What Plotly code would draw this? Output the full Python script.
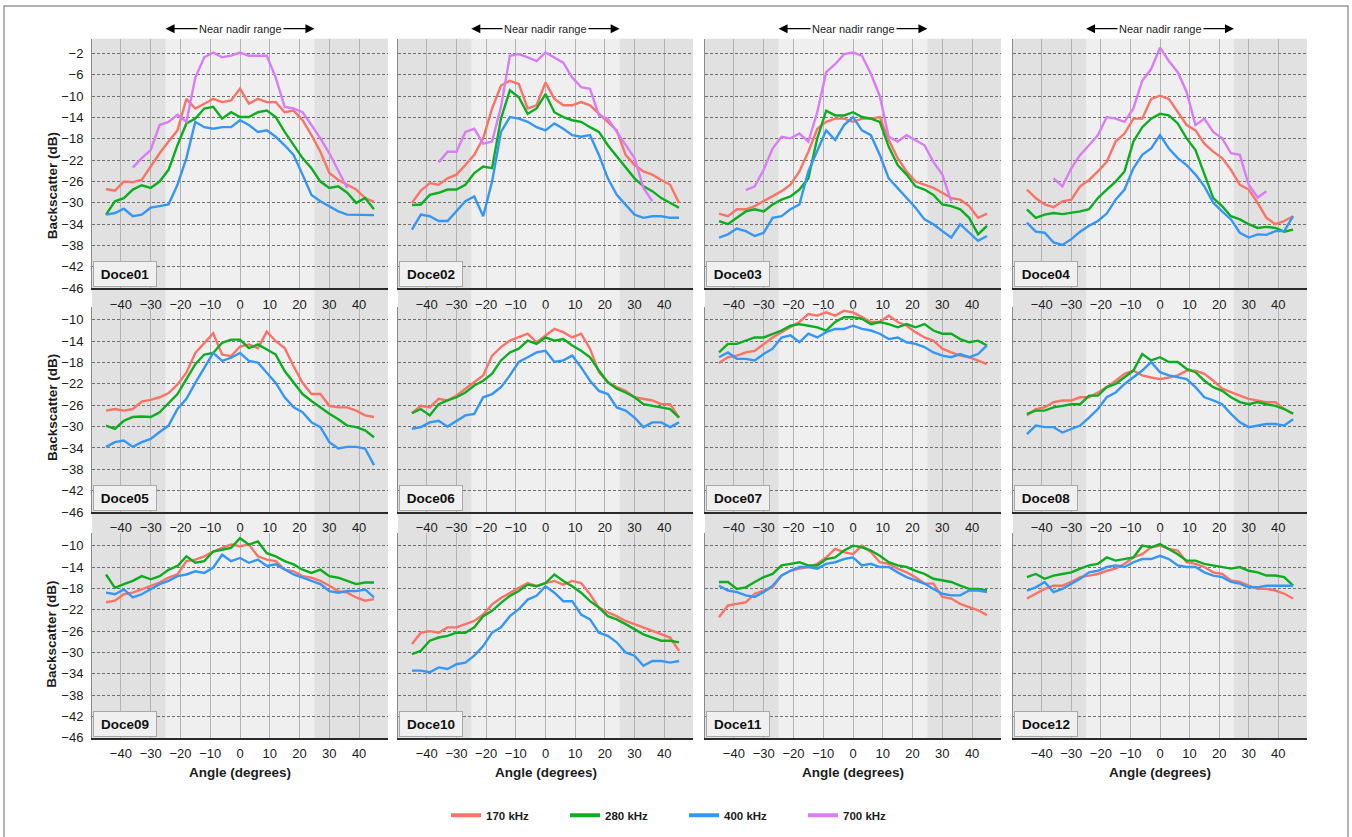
import plotly.graph_objects as go

# ---------------- data ----------------
ANGLES = [-45, -42, -39, -36, -33, -30, -27, -24, -21, -18, -15, -12, -9, -6, -3, 0,
          3, 6, 9, 12, 15, 18, 21, 24, 27, 30, 33, 36, 39, 42, 45]
FREQ_LABELS = ["170 kHz", "280 kHz", "400 kHz", "700 kHz"]
PANEL_NAMES = ["Doce01", "Doce02", "Doce03", "Doce04", "Doce05", "Doce06",
               "Doce07", "Doce08", "Doce09", "Doce10", "Doce11", "Doce12"]
X_TICKS = [-40, -30, -20, -10, 0, 10, 20, 30, 40]
Y_TICKS_TOP = [-2, -6, -10, -14, -18, -22, -26, -30, -34, -38, -42, -46]
Y_TICKS_LOW = [-10, -14, -18, -22, -26, -30, -34, -38, -42, -46]
NADIR_RANGE = [-25, 25]

D01_170 = [-27.4, -27.7, -26.0, -26.1, -25.7, -23.2, -20.7, -18.5, -16.4, -10.5, -12.3, -11.4, -10.5, -11.1, -10.8, -8.6, -11.4, -10.5, -11.1, -11.1, -13.0, -12.7, -14.5, -17.3, -20.4, -24.4, -25.7, -26.6, -27.5, -29.1, -29.8]
D01_280 = [-32.2, -29.7, -29.1, -27.5, -26.7, -27.2, -26.0, -23.8, -19.2, -15.1, -14.2, -12.3, -12.0, -14.2, -13.0, -13.9, -13.9, -13.0, -12.7, -13.9, -16.7, -19.2, -21.6, -23.5, -26.0, -27.2, -26.9, -28.1, -30.0, -29.1, -31.2]
D01_400 = [-32.2, -31.9, -31.1, -32.5, -32.2, -30.9, -30.6, -30.3, -26.6, -21.6, -14.8, -15.8, -16.1, -15.8, -15.8, -14.5, -15.4, -16.7, -16.4, -17.6, -19.2, -21.0, -24.7, -28.5, -29.7, -30.6, -31.6, -32.2, -32.2, -32.2, -32.3]
D01_700 = [None, None, None, -23.4, -21.6, -20.1, -15.4, -14.8, -13.5, -14.8, -6.5, -2.7, -1.8, -2.7, -2.4, -1.8, -2.4, -2.4, -2.4, -6.5, -12.0, -12.3, -13.0, -15.4, -17.9, -20.7, -24.1, -27.2, None, None, None]

D02_170 = [-30.0, -27.7, -26.3, -26.6, -25.4, -24.7, -22.9, -21.0, -17.9, -12.3, -8.0, -7.1, -7.7, -12.3, -11.7, -7.4, -10.5, -11.7, -11.7, -11.1, -11.7, -13.3, -14.8, -16.4, -21.0, -22.9, -24.1, -24.7, -25.7, -26.6, -30.0]
D02_280 = [-30.4, -30.3, -28.5, -28.1, -27.5, -27.5, -26.6, -24.4, -23.2, -23.5, -14.2, -8.9, -10.2, -13.3, -12.3, -9.6, -13.0, -13.9, -14.5, -14.8, -15.8, -16.7, -19.2, -21.3, -23.5, -25.4, -26.9, -27.8, -29.1, -30.0, -30.9]
D02_400 = [-35.0, -32.2, -32.5, -33.4, -33.4, -31.6, -29.7, -28.8, -32.5, -26.0, -16.7, -13.9, -14.2, -14.8, -15.8, -16.4, -15.1, -16.1, -17.3, -17.6, -17.3, -21.0, -25.4, -28.5, -30.3, -32.2, -32.8, -32.5, -32.5, -32.8, -32.8]
D02_700 = [None, None, None, -22.4, -20.4, -20.4, -16.7, -16.1, -18.9, -18.5, -12.0, -2.4, -2.1, -2.7, -3.4, -1.8, -2.7, -3.7, -6.5, -8.3, -8.6, -13.6, -14.2, -16.7, -19.2, -21.6, -27.2, -29.7, None, None, None]

D03_170 = [-32.0, -32.5, -31.2, -31.2, -30.6, -29.7, -28.8, -27.8, -26.6, -24.1, -20.4, -16.1, -14.8, -14.2, -14.2, -14.8, -14.2, -14.2, -13.9, -18.2, -21.6, -24.1, -26.0, -26.6, -27.2, -28.1, -29.1, -29.4, -30.6, -32.8, -32.0]
D03_280 = [-33.4, -34.0, -32.8, -31.6, -31.2, -31.6, -30.3, -29.4, -28.8, -27.5, -25.4, -17.9, -12.7, -13.6, -13.6, -13.0, -13.9, -14.2, -14.8, -19.5, -22.9, -24.7, -26.9, -27.5, -28.5, -30.3, -30.6, -31.2, -32.8, -35.9, -34.3]
D03_400 = [-36.5, -35.9, -34.8, -35.3, -36.2, -35.6, -32.8, -32.5, -31.2, -30.3, -24.1, -20.4, -16.4, -18.2, -15.4, -13.9, -16.4, -17.3, -21.0, -25.4, -27.2, -29.1, -30.9, -33.1, -34.0, -35.3, -36.5, -34.0, -35.6, -37.1, -36.2]
D03_700 = [None, None, None, -27.6, -26.9, -23.8, -19.8, -17.6, -17.9, -17.0, -18.5, -13.0, -5.5, -4.0, -2.1, -1.8, -2.4, -5.8, -10.0, -17.6, -18.5, -17.3, -18.2, -19.2, -22.3, -24.7, -29.7, None, None, None, None]

D04_170 = [-27.5, -29.1, -30.3, -30.8, -29.7, -29.4, -26.9, -25.7, -24.1, -22.3, -18.5, -17.0, -14.2, -14.2, -10.5, -9.9, -10.5, -13.0, -15.4, -16.4, -18.9, -20.4, -21.6, -23.8, -26.6, -27.5, -30.0, -32.8, -34.0, -33.4, -32.5]
D04_280 = [-31.2, -32.8, -32.2, -31.9, -32.1, -31.9, -31.6, -31.2, -29.1, -27.5, -26.0, -24.1, -18.5, -15.8, -14.2, -13.3, -13.6, -15.1, -17.9, -20.1, -24.7, -29.1, -30.6, -32.5, -33.1, -34.0, -34.7, -34.5, -34.7, -35.4, -35.0]
D04_400 = [-33.7, -35.4, -35.6, -37.4, -37.9, -36.8, -35.4, -34.3, -33.4, -32.0, -29.4, -27.5, -23.5, -21.0, -19.8, -17.3, -19.8, -21.6, -22.9, -24.7, -26.9, -30.0, -31.6, -33.1, -35.6, -36.5, -35.9, -36.0, -35.3, -35.3, -32.5]
D04_700 = [None, None, None, -25.4, -26.9, -23.5, -21.0, -19.2, -17.3, -13.9, -14.2, -14.8, -12.3, -7.1, -4.9, -0.9, -3.4, -5.5, -9.2, -15.4, -14.2, -16.7, -17.9, -20.7, -21.0, -26.6, -29.0, -27.8, None, None, None]

D05_170 = [-27.0, -26.7, -27.0, -26.7, -25.3, -25.0, -24.5, -23.7, -22.1, -19.9, -16.2, -14.3, -12.5, -16.5, -16.8, -15.0, -14.6, -15.3, -12.2, -14.0, -15.3, -18.7, -21.8, -23.9, -23.9, -26.1, -26.4, -26.4, -27.0, -27.9, -28.2]
D05_280 = [-29.8, -30.4, -28.9, -28.2, -28.1, -28.2, -27.3, -25.5, -23.9, -21.1, -18.3, -16.5, -16.2, -14.3, -13.7, -13.7, -15.3, -14.6, -15.6, -16.5, -19.6, -21.8, -23.9, -25.2, -26.4, -27.6, -28.6, -29.8, -30.1, -30.7, -32.0]
D05_400 = [-33.8, -32.9, -32.6, -33.8, -32.9, -32.3, -31.0, -29.8, -26.7, -24.8, -21.8, -19.0, -16.2, -17.7, -17.1, -16.2, -17.7, -18.0, -19.9, -21.8, -24.5, -26.4, -27.3, -29.2, -30.1, -32.9, -34.1, -33.8, -33.8, -34.1, -37.2]

D06_170 = [-27.5, -26.1, -26.4, -24.8, -25.1, -24.2, -22.9, -21.7, -20.4, -16.7, -15.1, -13.9, -13.3, -12.6, -14.2, -12.9, -11.7, -12.3, -13.3, -12.6, -15.4, -19.8, -21.7, -22.6, -23.3, -24.5, -24.8, -25.1, -25.8, -25.8, -28.3]
D06_280 = [-27.5, -26.7, -27.9, -25.8, -25.1, -24.5, -23.6, -22.3, -21.4, -20.1, -17.6, -16.1, -15.4, -13.9, -14.5, -13.3, -13.9, -13.6, -14.8, -15.8, -17.0, -19.5, -21.7, -22.9, -23.6, -24.5, -25.8, -26.1, -26.4, -26.7, -28.3]
D06_400 = [-30.4, -30.1, -29.2, -28.9, -30.0, -28.9, -27.9, -27.6, -24.5, -23.9, -22.6, -20.4, -17.9, -17.0, -16.1, -15.8, -17.9, -17.6, -16.7, -18.9, -21.4, -23.3, -23.9, -26.4, -27.0, -28.3, -30.1, -29.2, -29.2, -30.1, -29.2]

D07_170 = [-18.1, -17.0, -16.7, -16.1, -15.8, -14.5, -13.3, -12.3, -11.4, -10.4, -8.9, -9.2, -8.6, -9.2, -8.3, -8.6, -9.5, -10.4, -10.4, -9.2, -10.4, -11.1, -12.3, -13.3, -13.9, -15.4, -16.1, -16.7, -17.0, -17.6, -18.3]
D07_280 = [-16.1, -14.5, -14.5, -13.9, -13.3, -13.3, -12.6, -12.0, -11.1, -10.8, -11.1, -11.4, -12.0, -10.4, -9.5, -9.5, -9.8, -10.8, -10.4, -10.8, -11.4, -10.8, -11.4, -10.8, -12.0, -12.6, -12.6, -13.6, -14.2, -13.9, -14.8]
D07_400 = [-17.0, -16.1, -17.3, -17.3, -17.6, -16.4, -15.4, -13.3, -12.9, -14.2, -12.6, -13.3, -12.3, -11.7, -11.7, -11.1, -11.7, -12.0, -12.6, -13.6, -13.3, -14.2, -14.5, -15.1, -16.1, -16.7, -17.0, -16.4, -17.0, -16.4, -14.8]

D08_170 = [-27.9, -26.7, -26.4, -25.4, -25.1, -25.1, -24.5, -24.5, -23.6, -22.6, -21.4, -20.1, -19.5, -20.4, -20.8, -21.1, -20.8, -20.4, -19.5, -19.5, -20.1, -21.4, -22.9, -23.6, -24.2, -24.8, -25.1, -25.4, -25.4, -26.7, -27.6]
D08_280 = [-27.6, -27.0, -27.0, -26.4, -26.1, -25.8, -25.8, -24.2, -24.2, -22.6, -22.0, -20.8, -19.5, -16.4, -17.6, -17.0, -17.9, -17.9, -19.2, -19.8, -21.4, -22.6, -23.3, -24.5, -25.4, -25.8, -25.4, -25.8, -26.1, -26.7, -27.6]
D08_400 = [-31.4, -29.8, -30.1, -30.1, -31.1, -30.4, -29.8, -28.3, -26.7, -24.5, -23.6, -22.0, -20.8, -19.5, -17.9, -19.8, -20.4, -20.8, -21.1, -22.6, -24.5, -25.1, -25.8, -27.6, -29.2, -30.1, -29.8, -29.5, -29.5, -29.8, -28.6]

D09_170 = [-20.6, -20.3, -19.1, -18.8, -18.2, -17.5, -16.9, -16.0, -15.4, -12.9, -12.6, -12.0, -11.1, -10.4, -9.8, -10.1, -9.8, -12.0, -12.6, -12.9, -14.5, -14.8, -15.7, -16.0, -16.6, -17.5, -18.5, -18.8, -19.7, -20.3, -20.0]
D09_280 = [-15.4, -17.9, -17.2, -16.6, -15.7, -16.3, -15.7, -14.5, -13.8, -12.0, -13.2, -12.9, -11.1, -10.7, -10.4, -8.6, -9.8, -9.2, -11.4, -12.0, -12.9, -13.5, -14.5, -15.1, -14.5, -15.7, -16.0, -16.6, -17.2, -16.9, -16.9]
D09_400 = [-18.8, -19.1, -18.2, -19.7, -19.1, -18.2, -17.2, -16.6, -15.7, -15.4, -14.8, -15.1, -14.1, -11.7, -12.9, -12.3, -13.2, -12.6, -13.8, -13.5, -14.5, -15.4, -16.0, -16.6, -17.2, -18.5, -18.8, -18.5, -18.5, -18.2, -19.7]

D10_170 = [-28.4, -26.3, -26.0, -26.3, -25.3, -25.3, -24.7, -24.1, -22.9, -21.0, -19.8, -18.8, -17.9, -17.0, -17.6, -17.0, -16.6, -17.3, -16.6, -17.0, -19.1, -21.6, -22.5, -23.2, -24.1, -24.7, -25.3, -26.0, -26.6, -27.2, -29.7]
D10_280 = [-30.3, -29.7, -27.8, -27.2, -26.9, -26.3, -26.3, -25.3, -23.2, -22.2, -20.7, -19.4, -18.5, -17.3, -17.6, -17.0, -15.4, -16.6, -17.6, -18.8, -20.4, -21.6, -23.2, -23.8, -24.7, -25.7, -26.6, -27.2, -27.8, -27.8, -28.1]
D10_400 = [-33.4, -33.4, -33.7, -32.8, -33.1, -32.2, -31.9, -30.6, -28.8, -26.3, -25.3, -23.2, -21.9, -20.1, -19.4, -17.6, -18.8, -20.4, -20.4, -22.9, -23.8, -26.3, -26.9, -28.1, -30.0, -30.6, -32.5, -31.6, -31.6, -31.9, -31.6]

D11_170 = [-23.4, -21.2, -20.9, -20.6, -19.0, -18.4, -17.8, -15.6, -14.7, -14.3, -14.0, -13.4, -12.2, -10.6, -11.2, -11.6, -10.0, -11.2, -13.1, -13.4, -14.3, -15.0, -15.9, -17.1, -17.1, -19.6, -19.9, -20.9, -21.5, -22.1, -23.0]
D11_280 = [-16.8, -16.8, -18.1, -17.8, -16.8, -15.9, -15.3, -13.7, -13.4, -13.1, -13.7, -13.7, -12.5, -12.2, -10.9, -10.0, -10.3, -10.9, -11.9, -13.1, -13.7, -14.0, -14.7, -15.3, -16.2, -16.5, -16.8, -17.5, -18.1, -18.1, -18.4]
D11_400 = [-17.5, -18.4, -18.7, -19.3, -19.6, -18.7, -17.5, -15.6, -14.7, -14.0, -14.0, -14.3, -13.4, -13.1, -12.5, -12.2, -13.7, -13.4, -14.0, -14.0, -15.0, -15.9, -16.5, -17.1, -18.1, -19.0, -19.3, -19.3, -18.4, -18.4, -18.7]

D12_170 = [-19.9, -19.0, -18.1, -17.5, -17.5, -16.8, -15.9, -15.6, -15.3, -14.7, -14.3, -13.4, -12.2, -11.6, -10.3, -10.0, -10.6, -10.9, -13.1, -13.4, -14.0, -15.0, -15.3, -16.5, -16.8, -17.5, -18.1, -18.1, -18.4, -19.0, -19.9]
D12_280 = [-15.9, -15.3, -16.2, -15.6, -15.3, -15.0, -14.3, -13.7, -13.4, -12.2, -12.8, -12.5, -12.2, -10.0, -10.3, -9.7, -10.6, -11.6, -12.8, -12.8, -13.4, -13.7, -14.0, -14.3, -14.0, -14.7, -15.0, -15.6, -15.6, -15.9, -17.5]
D12_400 = [-18.4, -17.8, -16.8, -18.7, -18.1, -17.1, -16.2, -15.0, -14.7, -14.0, -13.7, -14.0, -13.1, -12.5, -12.5, -11.9, -12.5, -13.7, -14.0, -14.0, -15.0, -15.6, -15.9, -16.8, -17.1, -17.8, -17.8, -17.5, -17.5, -17.5, -17.5]

PANEL_SERIES = [
    (D01_170, D01_280, D01_400, D01_700),
    (D02_170, D02_280, D02_400, D02_700),
    (D03_170, D03_280, D03_400, D03_700),
    (D04_170, D04_280, D04_400, D04_700),
    (D05_170, D05_280, D05_400, None),
    (D06_170, D06_280, D06_400, None),
    (D07_170, D07_280, D07_400, None),
    (D08_170, D08_280, D08_400, None),
    (D09_170, D09_280, D09_400, None),
    (D10_170, D10_280, D10_400, None),
    (D11_170, D11_280, D11_400, None),
    (D12_170, D12_280, D12_400, None),
]

# ---------------- style / layout ----------------
W, H = 1352, 837
FONT = "Liberation Sans, Arial, sans-serif"
COLORS = ["#fb7267", "#0cae20", "#3497f6", "#d97df7"]
COL_PX = [(92, 388), (398, 693), (705, 1001), (1013, 1307)]
ROW_PX = [(39, 291), (310, 517), (538, 745)]
X_RANGE = [-49.7, 49.7]
Y_RANGES = [[-46, 0.8], [-46, -7.6], [-46, -7.6]]
TXT = "#1c1c1c"


def py(v):
    return 1 - v / H


fig = go.Figure()
layout = dict(
    width=W, height=H,
    margin=dict(l=0, r=0, t=0, b=0),
    paper_bgcolor="white", plot_bgcolor="rgba(0,0,0,0)",
    font=dict(family=FONT, color=TXT),
    hovermode=False,
    shapes=[], annotations=[],
)

for n in range(1, 13):
    r, c = (n - 1) // 4, (n - 1) % 4
    sfx = "" if n == 1 else str(n)
    layout["xaxis" + sfx] = dict(
        domain=[COL_PX[c][0] / W, COL_PX[c][1] / W], range=X_RANGE,
        anchor="y" + sfx, tickmode="array", tickvals=X_TICKS,
        showgrid=True, gridcolor="#b3b3b3", gridwidth=1, zeroline=False,
        showline=True, linecolor="#2a2a2a", linewidth=1.6,
        ticks="outside", ticklen=3, tickcolor="rgba(0,0,0,0)",
        tickfont=dict(size=13, family=FONT, color=TXT), fixedrange=True,
    )
    layout["yaxis" + sfx] = dict(
        domain=[py(ROW_PX[r][1]), py(ROW_PX[r][0])], range=Y_RANGES[r],
        anchor="x" + sfx, tickmode="array",
        tickvals=Y_TICKS_TOP if r == 0 else Y_TICKS_LOW,
        showticklabels=(c == 0),
        showgrid=True, gridcolor="#6f6f6f", gridwidth=1, griddash="3px,2px",
        zeroline=False, showline=True, linecolor="#8a8a8a", linewidth=1,
        ticks="outside", ticklen=5, tickcolor="rgba(0,0,0,0)",
        tickfont=dict(size=13, family=FONT, color=TXT), fixedrange=True,
    )
    series = PANEL_SERIES[n - 1]
    for k, vals in enumerate(series):
        if vals is None:
            continue
        fig.add_trace(go.Scatter(
            x=ANGLES, y=vals, mode="lines", xaxis="x" + sfx, yaxis="y" + sfx,
            line=dict(color=COLORS[k], width=2.4), showlegend=False,
            connectgaps=False, name=FREQ_LABELS[k]))
    # panel label box
    layout["annotations"].append(dict(
        text="<b>%s</b>" % PANEL_NAMES[n - 1], xref="x%s domain" % sfx, yref="y%s domain" % sfx,
        x=0.004, y=0.004, xanchor="left", yanchor="bottom", showarrow=False,
        width=54, height=16, align="center", valign="middle",
        bgcolor="#f0f0f0", bordercolor="#a8a8a8", borderwidth=1, borderpad=4,
        font=dict(size=13.5, family=FONT, color="#111")))

# column shading (near-nadir light band, outer darker bands)
for c in range(4):
    xa = "x" if c == 0 else "x%d" % (c + 1)
    y0, y1 = py(ROW_PX[2][1]), py(ROW_PX[0][0])
    layout["shapes"].append(dict(type="rect", xref=xa, yref="paper", x0=X_RANGE[0], x1=X_RANGE[1],
                                 y0=y0, y1=y1, fillcolor="#efefef", line=dict(width=0), layer="below"))
    layout["shapes"].append(dict(type="rect", xref=xa, yref="paper", x0=X_RANGE[0], x1=NADIR_RANGE[0],
                                 y0=y0, y1=y1, fillcolor="#e1e1e1", line=dict(width=0), layer="below"))
    layout["shapes"].append(dict(type="rect", xref=xa, yref="paper", x0=NADIR_RANGE[1], x1=X_RANGE[1],
                                 y0=y0, y1=y1, fillcolor="#e1e1e1", line=dict(width=0), layer="below"))
    # near nadir range arrows
    ya = py(29)
    for end in NADIR_RANGE:
        layout["annotations"].append(dict(
            x=end, y=ya, xref=xa, yref="paper", ax=0, ay=0, axref=xa, ayref="pixel",
            text="", showarrow=True, arrowhead=2, arrowsize=1.5, arrowwidth=1.2,
            arrowcolor="#000"))
    layout["annotations"].append(dict(
        x=0, y=ya, xref=xa, yref="paper", xanchor="center", yanchor="middle",
        text="Near nadir range", showarrow=False,
        bgcolor="white", borderpad=1, font=dict(size=11, family=FONT, color=TXT)))
    # x-axis titles under bottom row
    xb = "x%d" % (9 + c)
    layout["annotations"].append(dict(
        x=0, y=py(780), xref=xb, yref="paper", xanchor="center", yanchor="middle",
        text="<b>Angle (degrees)</b>",
        showarrow=False, font=dict(size=13.5, family=FONT, color=TXT)))

# y-axis titles
for yc in [188, 412, 641]:
    layout["annotations"].append(dict(
        x=52 / W, y=py(yc), xref="paper", yref="paper", xanchor="center", yanchor="middle",
        text="<b>Backscatter (dB)</b>",
        textangle=-90, showarrow=False, font=dict(size=13.5, family=FONT, color=TXT)))

# outer frame
layout["shapes"].append(dict(type="rect", xref="paper", yref="paper", x0=4 / W, x1=1348 / W,
                             y0=-0.05, y1=py(6), line=dict(color="#9a9a9a", width=1.5),
                             fillcolor="rgba(0,0,0,0)", layer="below"))

# legend entries
for k, lab in enumerate(FREQ_LABELS):
    fig.add_trace(go.Scatter(x=[None], y=[None], mode="lines", name="<b>%s</b>" % lab,
                             line=dict(color=COLORS[k], width=4), showlegend=True))
layout["legend"] = dict(
    orientation="h", x=684 / W, xanchor="center", y=py(823), yanchor="middle",
    font=dict(size=11.5, family=FONT, color=TXT), bgcolor="rgba(0,0,0,0)",
    entrywidth=74, entrywidthmode="pixels", traceorder="normal")

fig.update_layout(**layout)
fig.write_html("out.html", include_plotlyjs=True, config={"displayModeBar": False})
